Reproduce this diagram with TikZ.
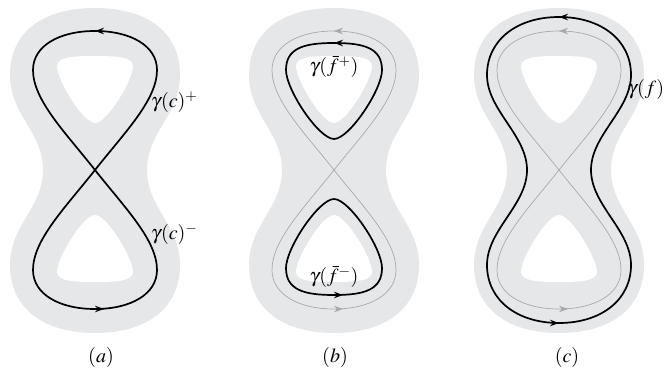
\documentclass[tikz,border=0pt]{standalone}
\usepackage{mathptmx}
\usetikzlibrary{arrows.meta,decorations.markings}
\definecolor{shapegray}{HTML}{E6E7E8}
\definecolor{curvegray}{HTML}{A7A9AC}
\newcommand\outerpath{(0,-162) .. controls (52,-162) and (85,-138) .. (85,-95) .. controls (85,-55) and (52,-38) .. (52,0) .. controls (52,38) and (85,55) .. (85,95) .. controls (85,138) and (52,163) .. (0,163) .. controls (-52,163) and (-85,138) .. (-85,95) .. controls (-85,55) and (-52,38) .. (-52,0) .. controls (-52,-38) and (-85,-55) .. (-85,-95) .. controls (-85,-138) and (-52,-162) .. (0,-162) -- cycle}
\newcommand\holepath{(0,-114) .. controls (22,-114) and (38,-113) .. (38,-104) .. controls (38,-90) and (12,-47) .. (0,-47) .. controls (-12,-47) and (-38,-90) .. (-38,-104) .. controls (-38,-113) and (-22,-114) .. (0,-114) -- cycle}
\newcommand\lobepath{(0,0) .. controls (30,-38) and (62,-70) .. (62,-100) .. controls (62,-124) and (36,-139) .. (0,-139) .. controls (-36,-139) and (-62,-124) .. (-62,-100) .. controls (-62,-70) and (-30,-38) .. (0,0)}
\newcommand\looppath{(0,-31) .. controls (15,-31) and (48,-80) .. (48,-100) .. controls (48,-122) and (30,-127) .. (0,-127) .. controls (-30,-127) and (-48,-122) .. (-48,-100) .. controls (-48,-80) and (-15,-31) .. (0,-31)}
\newcommand\bigpath{(32,0) .. controls (32,-35) and (72,-60) .. (72,-95) .. controls (72,-130) and (42,-153) .. (0,-153) .. controls (-42,-153) and (-72,-130) .. (-72,-95) .. controls (-72,-60) and (-32,-35) .. (-32,0) .. controls (-32,35) and (-72,60) .. (-72,95) .. controls (-72,130) and (-42,153) .. (0,153) .. controls (42,153) and (72,130) .. (72,95) .. controls (72,60) and (32,35) .. (32,0)}
\tikzset{
  region/.style={fill=shapegray, draw=none},
  hole/.style={fill=white, draw=none},
  thickcurve/.style={line width=1.7pt, color=black},
  thincurve/.style={line width=0.7pt, color=curvegray},
  tipat/.style={postaction={decorate, decoration={markings, mark=at position #1 with {\arrow{Stealth[length=9pt,width=6.5pt]}}}}},
  tipback/.style={postaction={decorate, decoration={markings, mark=at position #1 with {\arrow{Stealth[length=9pt,width=6.5pt,reversed]}}}}},
  lbl/.style={inner sep=0pt, font=\fontsize{20}{24}\selectfont},
}
\begin{document}
\begin{tikzpicture}[x=1pt,y=-1pt]
\useasboundingbox (0,0) rectangle (666,374);
\clip (0,0) rectangle (666,374);
% ---------- panel backgrounds ----------
\foreach \cx in {95,334,559}{
  \fill[region, shift={(\cx,170)}] \outerpath;
  \fill[hole, shift={(\cx,170)}] \holepath;
  \fill[hole, shift={(\cx,168)}, yscale=-1] \holepath;
}
% ---------- (a) ----------
\draw[thickcurve, tipat=0.5, shift={(95,170)}] \lobepath;
\draw[thickcurve, tipback=0.5, shift={(95,170)}, yscale=-1] \lobepath;
\node[lbl, anchor=west] (cplus) at (151,102) {$\gamma(c)^{+}$};
\node[lbl, anchor=west] (cminus) at (151,234) {$\gamma(c)^{-}$};
\node[lbl] (la) at (101,357) {$(a)$};
% ---------- (b) ----------
\draw[thincurve, tipat=0.5, shift={(334,170)}] \lobepath;
\draw[thincurve, tipback=0.5, shift={(334,170)}, yscale=-1] \lobepath;
\draw[thickcurve, tipat=0.5, shift={(334,170)}] \looppath;
\draw[thickcurve, tipback=0.5, shift={(334,168)}, yscale=-1] \looppath;
\node[lbl] (fplus) at (334,67) {$\gamma(\bar{f}^{+})$};
\node[lbl] (fminus) at (334,277) {$\gamma(\bar{f}^{-})$};
\node[lbl] (lb) at (335,357) {$(b)$};
% ---------- (c) ----------
\draw[thincurve, tipat=0.5, shift={(559,170)}] \lobepath;
\draw[thincurve, tipback=0.5, shift={(559,170)}, yscale=-1] \lobepath;
\draw[thickcurve, tipat=0.25, tipat=0.75, shift={(559,170)}] \bigpath;
\node[lbl, anchor=west] (f) at (627,90) {$\gamma(f)$};
\node[lbl] (lc) at (567,357) {$(c)$};
\end{tikzpicture}
\end{document}
